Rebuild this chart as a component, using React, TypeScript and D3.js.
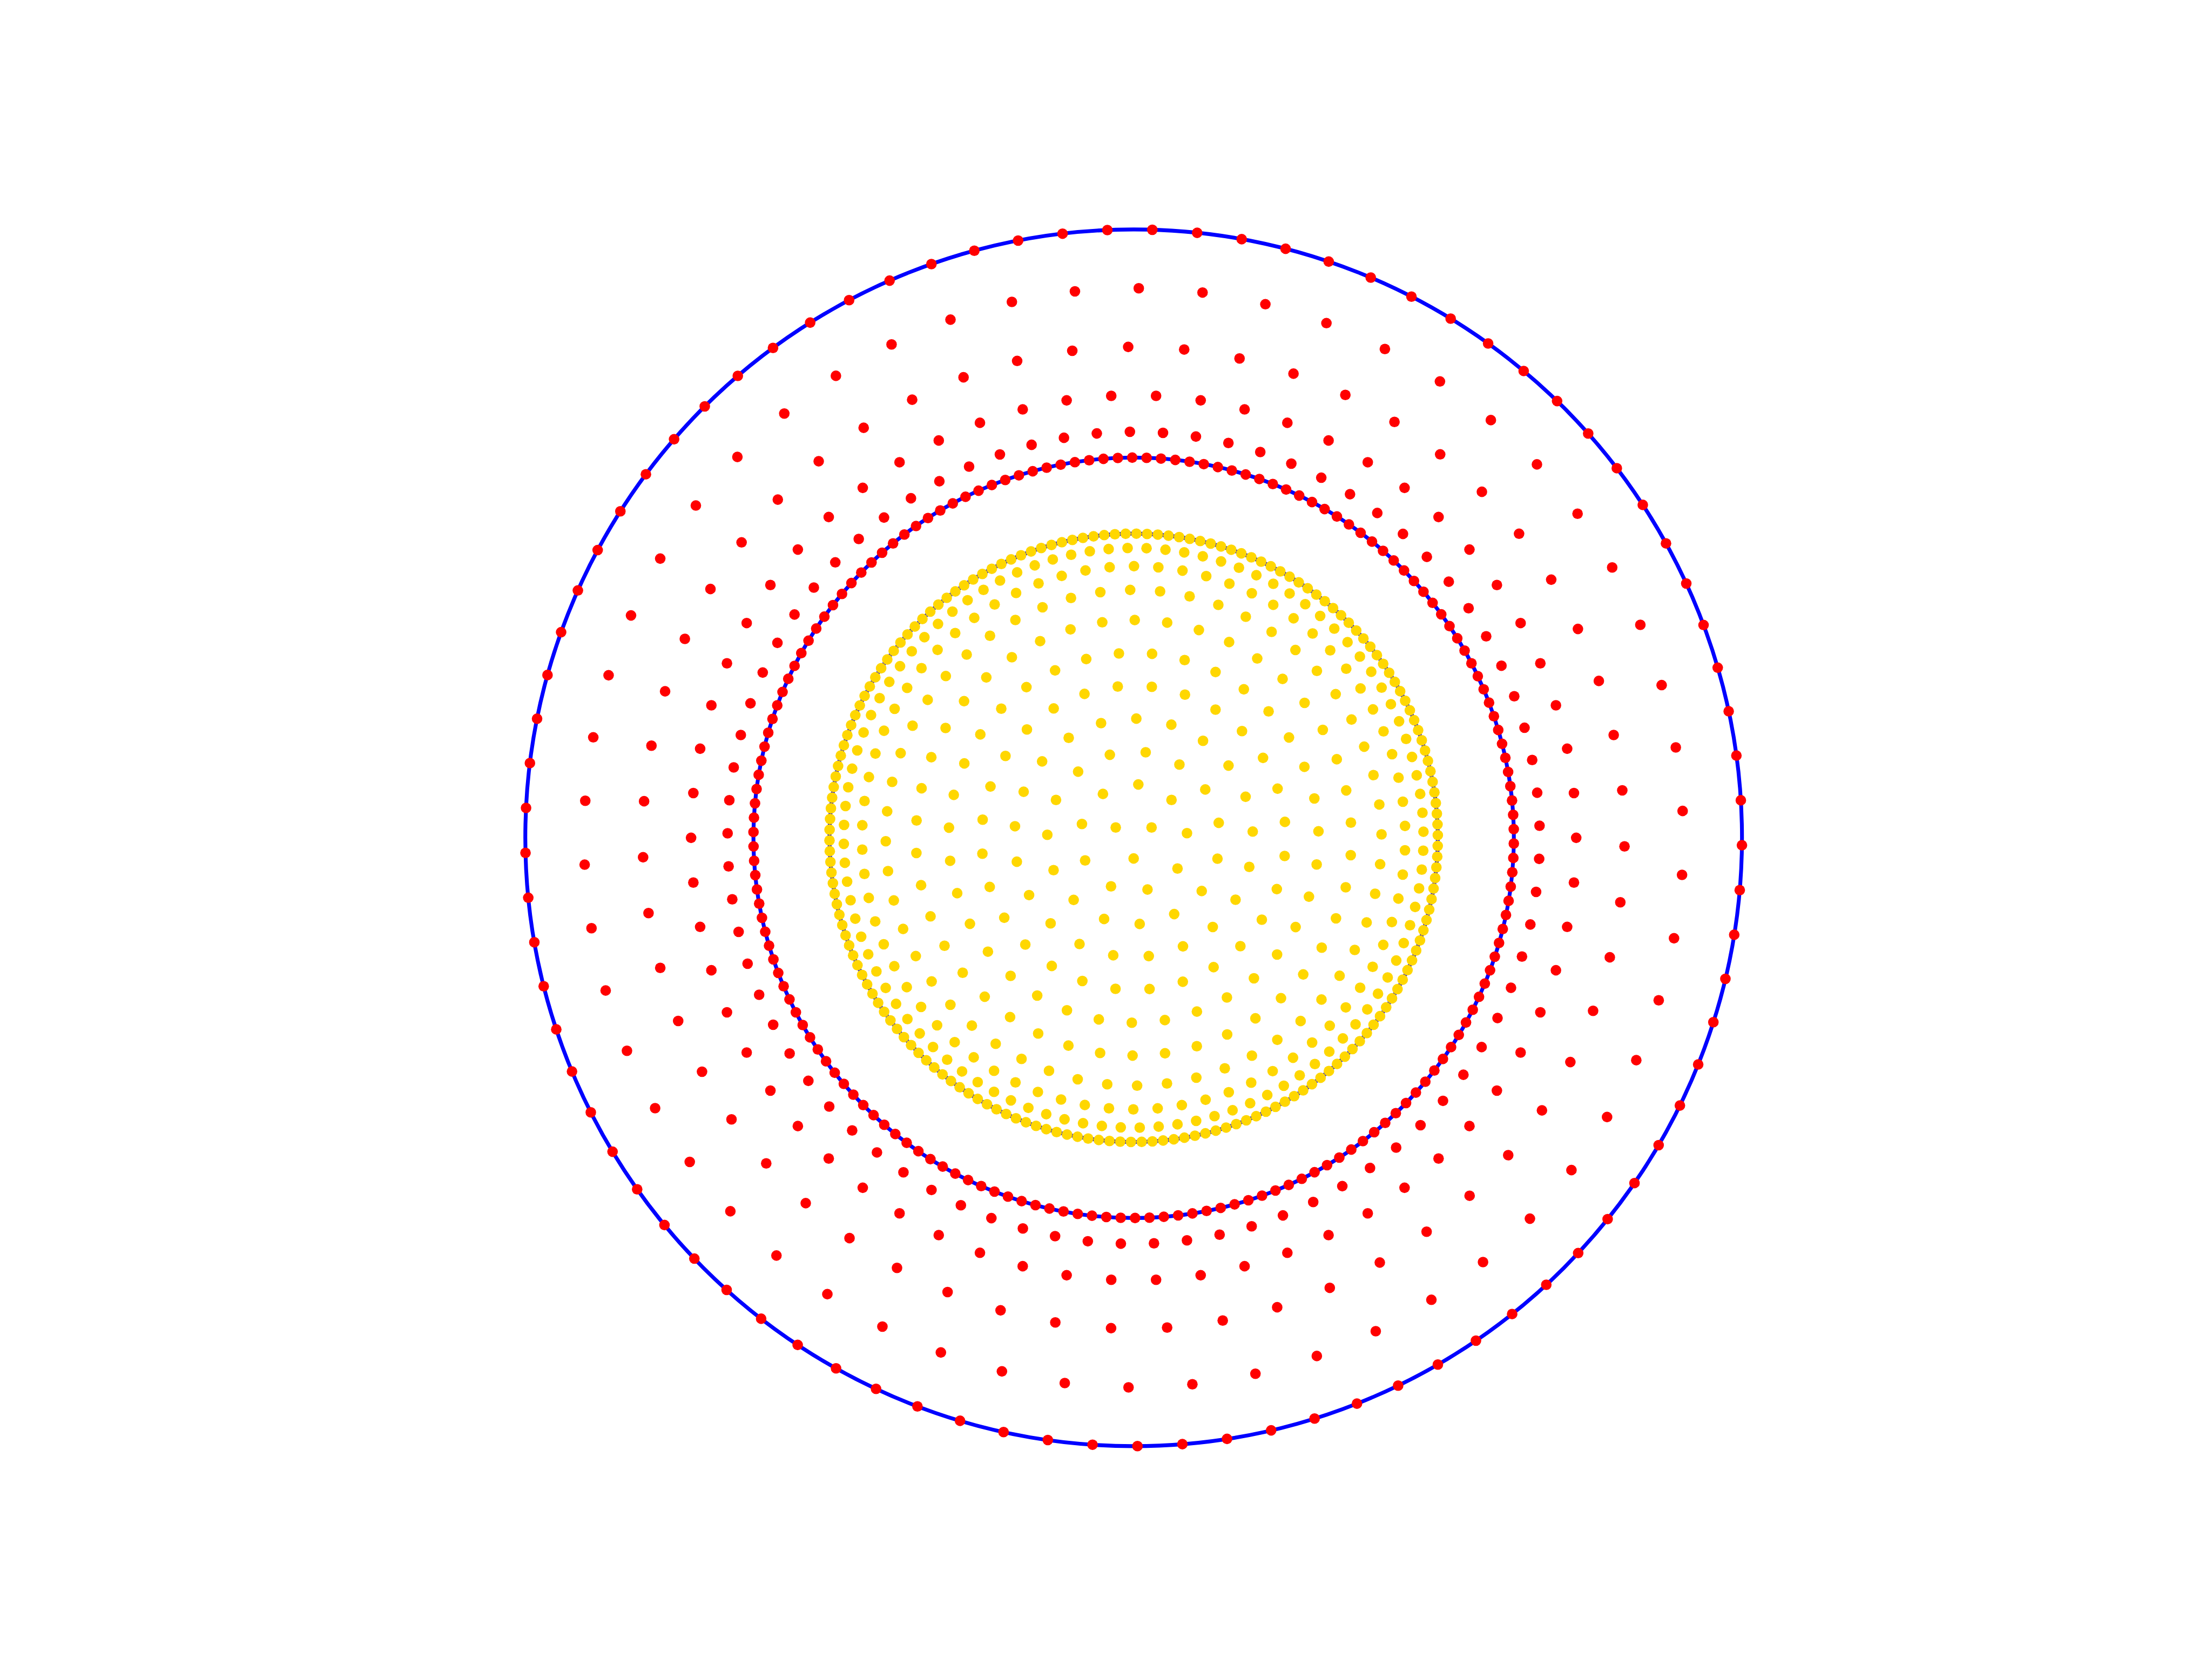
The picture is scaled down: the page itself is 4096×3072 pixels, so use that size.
import React from "react";
import * as d3 from "d3";

// boundary circles (data units: inner disk radius = 1)
const circleRadii = [2.0, 1.25, 1.0];

// red nodes, one ring per entry: radius, number of nodes, angle of first node (deg)
const redRadii = [2.0, 1.807, 1.614, 1.455, 1.335, 1.25];
const redCounts = [85, 54, 55, 62, 77, 166];
const redPhases = [-0.7, 2.8, -1.0, 0.0, 1.7, 1.3];

// yellow nodes filling the inner disk
const yellowRadii = [1.0, 0.953, 0.893, 0.815, 0.716, 0.608, 0.5, 0.392, 0.284, 0.176, 0.068];
const yellowCounts = [178, 96, 70, 52, 42, 35, 28, 21, 15, 9, 3];
const yellowPhases = [0.5, 1.2, 2.5, 0.8, 4.0, 2.0, 6.0, 3.0, 10.0, 5.0, 30.0];

const S = 0.64;
const width = 4096;
const height = 3072;
const margin = { top: 576 * S, right: 640 * S, bottom: 528 * S, left: 800 * S };

const ringPoints = (radii: number[], counts: number[], phases: number[]) => {
  const pts: { r: number; a: number }[] = [];
  radii.forEach((r, i) => {
    const n = counts[i];
    for (let j = 0; j < n; j++) {
      pts.push({ r, a: ((phases[i] + (j * 360) / n) * Math.PI) / 180 });
    }
  });
  return pts;
};

export default function App() {
  const x = d3
    .scaleLinear()
    .domain([-2.818, 2.818])
    .range([margin.left, width - margin.right]);
  const y = d3
    .scaleLinear()
    .domain([-2.1, 2.1])
    .range([height - margin.bottom, margin.top]);

  const red = ringPoints(redRadii, redCounts, redPhases);
  const yellow = ringPoints(yellowRadii, yellowCounts, yellowPhases);
  const dot = 9.8;

  return (
    <svg
      width={width}
      height={height}
      style={{ position: "fixed", left: 0, top: 0, background: "white" }}
    >
      <g fill="none" stroke="#0000ff" strokeWidth={7.1}>
        {circleRadii.map((r, i) => (
          <circle key={i} cx={x(0)} cy={y(0)} r={x(r) - x(0)} />
        ))}
      </g>
      <g fill="#ff0000">
        {red.map((p, i) => (
          <circle
            key={i}
            cx={x(p.r * Math.cos(p.a))}
            cy={y(p.r * Math.sin(p.a))}
            r={dot}
          />
        ))}
      </g>
      <g fill="#ffd700">
        {yellow.map((p, i) => (
          <circle
            key={i}
            cx={x(p.r * Math.cos(p.a))}
            cy={y(p.r * Math.sin(p.a))}
            r={dot}
          />
        ))}
      </g>
    </svg>
  );
}
